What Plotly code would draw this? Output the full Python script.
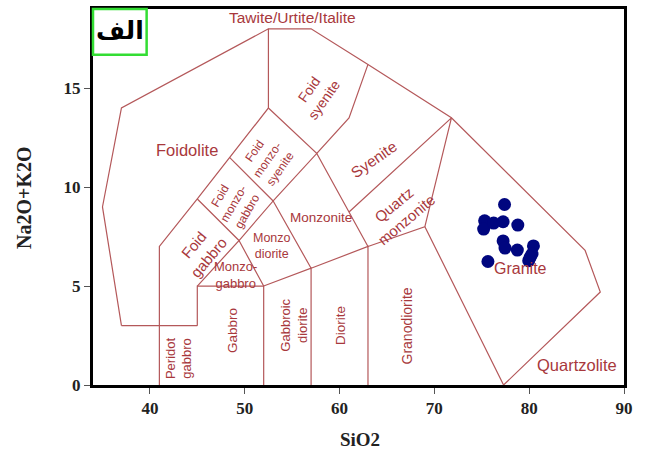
import plotly.graph_objects as go

# Field boundary segments (SiO2, Na2O+K2O), Middlemost-style plutonic TAS
boundary_x = [
    [37, 35, 37, 52.5, 57, 63, 71.8, 85.9, 87.5, 77.3],   # outer
    [37, 45],                                            # y=3 line
    [41, 41, 45, 48.4, 52.5, 52.5],                      # foid gabbro / foidolite edge
    [45, 45, 52, 52],                                    # gabbro
    [52, 57, 57],                                        # gabbroic diorite
    [57, 63, 63],                                        # diorite
    [63, 69, 77.3],                                      # granodiorite
    [45, 49.4, 52],                                      # monzogabbro
    [45, 49.4, 53, 57],                                  # foid monzogabbro / monzodiorite
    [48.4, 53],                                          # foid monzogabbro top
    [52.5, 57.6, 61, 63],                                # foid syenite
    [53, 57.6, 63],                                      # monzonite / syenite
    [61, 71.8, 69],                                      # quartz monzonite
]
boundary_y = [
    [3, 9, 14, 18, 18, 16.2, 13.5, 6.8, 4.7, 0],
    [3, 3],
    [0, 7, 9.4, 11.5, 14, 18],
    [3, 5, 5, 0],
    [5, 5.9, 0],
    [5.9, 7, 0],
    [7, 8, 0],
    [5, 7.3, 5],
    [9.4, 7.3, 9.3, 5.9],
    [11.5, 9.3],
    [14, 11.7, 13.5, 16.2],
    [9.3, 11.7, 7],
    [8.74, 13.5, 8],
]

# Sample data
sio2 = [77.4, 75.3, 75.2, 76.25, 77.25, 78.8, 77.25, 77.45, 78.75, 80.45, 80.3, 79.95, 75.65, 80.1]
alk = [9.12, 8.3, 7.88, 8.18, 8.25, 8.08, 7.28, 6.92, 6.82, 7.03, 6.62, 6.28, 6.24, 6.45]

# Field labels
label_text = ["Tawite/Urtite/Italite", "Foidolite", "Foid<br>syenite", "Foid<br>monzo-<br>syenite",
              "Foid<br>monzo-<br>gabbro", "Foid<br>gabbro", "Monzo<br>diorite", "Monzo-<br>gabbro",
              "Monzonite", "Syenite", "Quartz<br>monzonite", "Granite", "Quartzolite",
              "Granodiorite", "Diorite", "Gabbroic<br>diorite", "Gabbro", "Peridot<br>gabbro"]
label_x = [55.0, 43.9, 57.6, 52.4, 48.85, 45.4, 52.9, 49.0, 58.0, 63.6, 66.4, 79.1, 85.0,
           67.1, 60.1, 55.2, 48.7, 43.05]
label_y = [18.55, 11.9, 14.7, 11.4, 9.15, 6.75, 7.0, 5.55, 8.45, 11.4, 8.7, 5.9, 1.0,
           3.0, 3.0, 3.0, 2.75, 1.35]
label_angle = [0, 0, -55, -55, -60, -50, 0, 0, 0, -35, -40, 0, 0, -90, -90, -90, -90, -90]
label_size = [15.5, 16.5, 14, 12, 12, 15, 12.5, 13, 13.5, 15.5, 15, 16, 16.5,
              14, 13.5, 13, 13.5, 13]

line_color = "#b4585a"
text_color = "#a8383c"

lx, ly = [], []
for xs, ys in zip(boundary_x, boundary_y):
    lx += xs + [None]
    ly += ys + [None]

fig = go.Figure()
fig.add_trace(go.Scatter(x=lx, y=ly, mode="lines",
                         line=dict(color=line_color, width=1.2),
                         hoverinfo="skip", showlegend=False))
fig.add_trace(go.Scatter(x=sio2, y=alk, mode="markers",
                         marker=dict(color="#00067f", size=13),
                         showlegend=False))

for t, x, y, a, s in zip(label_text, label_x, label_y, label_angle, label_size):
    fig.add_annotation(x=x, y=y, text=t, textangle=a, showarrow=False,
                       xanchor="center", yanchor="middle",
                       font=dict(family="Liberation Sans, Arial", size=s, color=text_color))

# Axis titles
fig.add_annotation(xref="paper", yref="paper", x=0.503, y=-0.145, text="SiO2",
                   showarrow=False, xanchor="center", yanchor="middle",
                   font=dict(family="Liberation Serif, Times New Roman", size=19,
                             color="#222", weight="bold"))
fig.add_annotation(xref="paper", yref="paper", x=-0.13, y=0.5, text="Na2O+K2O",
                   textangle=-90, showarrow=False, xanchor="center", yanchor="middle",
                   font=dict(family="Liberation Serif, Times New Roman", size=20,
                             color="#222", weight="bold"))

# Panel label box
fig.add_shape(type="rect", xref="paper", yref="paper", x0=0.0, y0=0.878, x1=0.101, y1=1.0,
              line=dict(color="#33dd33", width=2.5))
fig.add_annotation(xref="paper", yref="paper", x=0.05, y=0.942, text="الف",
                   showarrow=False, xanchor="center", yanchor="middle",
                   font=dict(family="DejaVu Sans", size=25, color="black", weight="bold"))

axis_common = dict(showgrid=False, zeroline=False, showline=True, linecolor="black",
                   linewidth=3, mirror=True, ticks="outside", ticklen=6, tickwidth=1,
                   tickcolor="#555",
                   tickfont=dict(family="Liberation Serif, Times New Roman", size=17,
                                 color="#222", weight="bold"))
fig.update_xaxes(range=[34, 90], tickvals=[40, 50, 60, 70, 80, 90], **axis_common)
fig.update_yaxes(range=[0, 19], tickvals=[0, 5, 10, 15], **axis_common)

fig.update_layout(width=646, height=454, margin=dict(l=93, r=22, t=6, b=69),
                  plot_bgcolor="white", paper_bgcolor="white")

fig.write_html("out.html", config={"displayModeBar": False},
               post_script="document.body.style.margin='0';")
